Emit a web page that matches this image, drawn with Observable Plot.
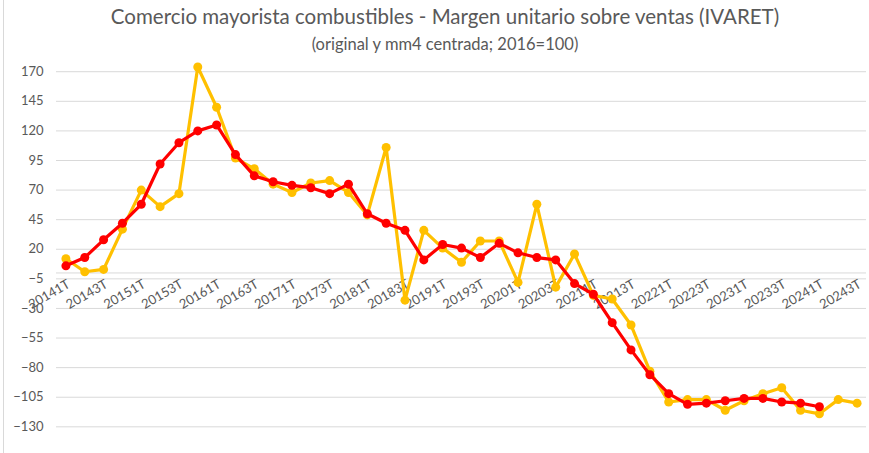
<!DOCTYPE html>
<html>
<head>
<meta charset="utf-8">
<script src="https://cdn.jsdelivr.net/npm/d3@7"></script>
<script src="https://cdn.jsdelivr.net/npm/@observablehq/plot@0.6"></script>
<style>
  html, body { margin: 0; padding: 0; background: #fff; }
  #wrap { position: relative; width: 869px; height: 453px; overflow: hidden; font-family: Lato, "Open Sans", sans-serif; }
  #frame { position: absolute; left: 3px; top: 0; width: 1px; height: 453px; background: #d9d9d9; }
  .title { position: absolute; left: 0; width: 890px; text-align: center; color: #595959; }
  #t1 { top: 4px; font-size: 20.5px; }
  #t2 { top: 34px; font-size: 16.5px; }
  svg { position: absolute; left: 0; top: 0; }
</style>
</head>
<body>
<div id="wrap">
  <div id="frame"></div>
  <div id="chart"></div>
  <div class="title" id="t1">Comercio mayorista combustibles - Margen unitario sobre ventas (IVARET)</div>
  <div class="title" id="t2">(original y mm4 centrada; 2016=100)</div>
</div>
<script>
const quarters = [
  "20141T","20142T","20143T","20144T",
  "20151T","20152T","20153T","20154T",
  "20161T","20162T","20163T","20164T",
  "20171T","20172T","20173T","20174T",
  "20181T","20182T","20183T","20184T",
  "20191T","20192T","20193T","20194T",
  "20201T","20202T","20203T","20204T",
  "20211T","20212T","20213T","20214T",
  "20221T","20222T","20223T","20224T",
  "20231T","20232T","20233T","20234T",
  "20241T","20242T","20243T"
];
const original = [
  12, 1, 3, 37,
  70, 56, 67, 174,
  140, 97, 88, 75,
  68, 76, 78, 68,
  49, 106, -23, 36,
  21, 9, 27, 27,
  -8, 58, -12, 16,
  -19, -22, -44, -83,
  -109, -107, -107, -116,
  -108, -102, -97, -116,
  -119, -107, -110
];
const mm4 = [
  6, 13, 28, 42,
  58, 92, 110, 120,
  125, 100, 82, 77,
  74, 72, 67, 75,
  50, 42, 36, 11,
  24, 21, 13, 25,
  17, 13, 11, -9,
  -18, -42, -65, -86,
  -102, -111, -110, -108,
  -106, -106, -109, -110,
  -113
];
const yTicks = [-130, -105, -80, -55, -30, -5, 20, 45, 70, 95, 120, 145, 170];
const xTickLabels = quarters.filter((q, i) => i % 2 === 0);

const origData = original.map((v, i) => ({q: quarters[i], v}));
const mmData = mm4.map((v, i) => ({q: quarters[i], v}));

const chart = Plot.plot({
  width: 869,
  height: 453,
  marginLeft: 56,
  marginRight: 3,
  marginTop: 57,
  marginBottom: 3,
  style: {fontFamily: "Lato, 'Open Sans', sans-serif", background: "transparent"},
  x: {type: "point", domain: quarters, padding: 0.5, axis: null},
  y: {domain: [-150, 182], axis: null},
  marks: [
    Plot.gridY(yTicks, {stroke: "#d9d9d9", strokeOpacity: 1, strokeWidth: 1}),
    Plot.axisY(yTicks, {tickSize: 0, tickPadding: 13, fontSize: 13, fill: "#595959", label: null}),
    Plot.ruleY([0], {stroke: "#d9d9d9", strokeWidth: 1}),
    Plot.text(xTickLabels, {x: d => d, y: 0, text: d => d, rotate: -30, textAnchor: "end", dy: 10, dx: 3, fontSize: 13, fill: "#595959"}),
    Plot.line(origData, {x: "q", y: "v", stroke: "#FFC000", strokeWidth: 3.2}),
    Plot.dot(origData, {x: "q", y: "v", r: 4.5, fill: "#FFC000", stroke: "none"}),
    Plot.line(mmData, {x: "q", y: "v", stroke: "#FF0000", strokeWidth: 3.2}),
    Plot.dot(mmData, {x: "q", y: "v", r: 4.5, fill: "#FF0000", stroke: "none"})
  ]
});
document.getElementById("chart").appendChild(chart);
</script>
</body>
</html>
